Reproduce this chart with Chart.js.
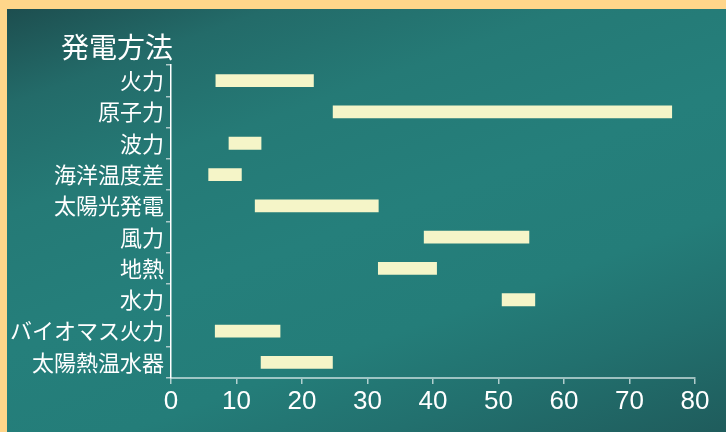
<!DOCTYPE html>
<html>
<head>
<meta charset="utf-8">
<script src="https://cdn.jsdelivr.net/npm/chart.js@4/dist/chart.umd.min.js"></script>
<style>
html,body{margin:0;padding:0;width:726px;height:432px;overflow:hidden;background:#FFD68A;}
#bg{position:absolute;left:7px;top:9px;width:719px;height:423px;
background:linear-gradient(160deg,#1d4e4f 0%,#236b69 14%,#257a76 30%,#257f7b 50%,#247d79 68%,#22706e 82%,#1f5c5c 100%);}
#wrap{position:absolute;left:0;top:0;width:726px;height:432px;}
</style>
</head>
<body>
<div id="bg"></div>
<div id="wrap"><canvas id="c" width="726" height="432"></canvas></div>
<script>
const categories = ['火力','原子力','波力','海洋温度差','太陽光発電','風力','地熱','水力','バイオマス火力','太陽熱温水器'];
const startValues = [6.8, 24.7, 8.8, 5.7, 12.8, 38.6, 31.6, 50.5, 6.7, 13.7];
const endValues   = [21.8, 76.5, 13.8, 10.8, 31.7, 54.7, 40.6, 55.6, 16.7, 24.7];
const xMin = 0, xMax = 80, xStep = 10;
const axisTitle = '発電方法';

const ranges = categories.map((c, i) => [startValues[i], endValues[i]]);

const titlePlugin = {
  id: 'axisTitle',
  afterDraw(chart) {
    const { ctx, chartArea } = chart;
    ctx.save();
    ctx.font = '28px "Noto Sans CJK JP"';
    ctx.fillStyle = '#ffffff';
    ctx.textAlign = 'right';
    ctx.textBaseline = 'middle';
    ctx.fillText(axisTitle, chartArea.left + 2, 47);
    ctx.restore();
  }
};

new Chart(document.getElementById('c'), {
  type: 'bar',
  data: {
    labels: categories,
    datasets: [{
      data: ranges,
      backgroundColor: '#F5F5C8',
      borderWidth: 0,
      categoryPercentage: 1,
      barPercentage: 0.41
    }]
  },
  options: {
    indexAxis: 'y',
    responsive: false,
    animation: false,
    devicePixelRatio: 1,
    layout: { padding: { left: 11, right: 31, top: 65, bottom: 0 } },
    plugins: { legend: { display: false }, tooltip: { enabled: false } },
    scales: {
      x: {
        type: 'linear',
        min: xMin, max: xMax,
        ticks: { stepSize: xStep, color: '#ffffff', padding: 2,
                 font: { family: '"Liberation Sans", Arial, sans-serif', size: 26 } },
        grid: { drawOnChartArea: false, drawTicks: true, tickLength: 6, color: 'rgba(225,238,238,0.75)', lineWidth: 1.5 },
        border: { display: true, color: 'rgba(225,238,238,0.65)', width: 2 },
        afterFit(scale) { scale.height = 54; }
      },
      y: {
        type: 'category',
        offset: true,
        ticks: { color: '#ffffff', padding: 2,
                 font: { family: '"Noto Sans CJK JP", sans-serif', size: 22 } },
        grid: { drawOnChartArea: false, drawTicks: true, tickLength: 5, offset: true, color: 'rgba(190,212,212,0.9)', lineWidth: 1.5 },
        border: { display: true, color: '#ffffff', width: 1.5 },
        afterFit(scale) { scale.width = 160; }
      }
    }
  },
  plugins: [titlePlugin]
});
</script>
</body>
</html>
